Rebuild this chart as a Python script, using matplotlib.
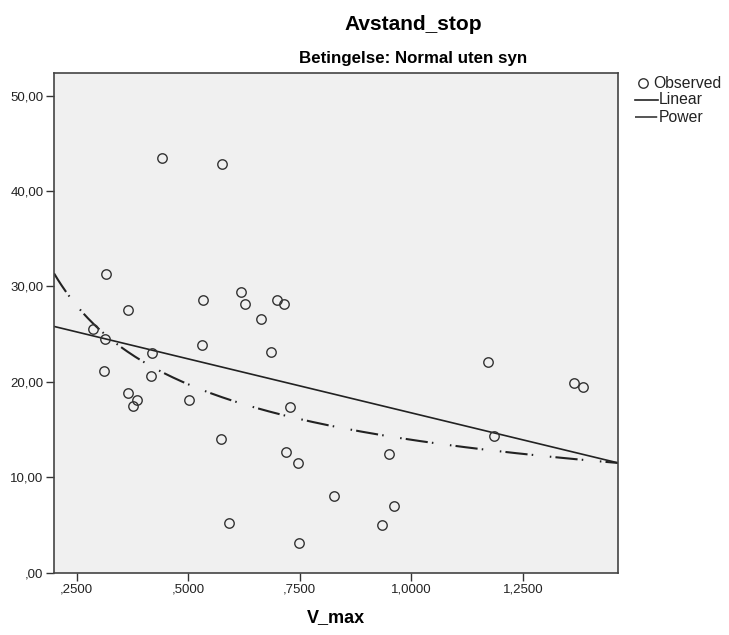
import numpy as np
import matplotlib
matplotlib.use("Agg")
import matplotlib.pyplot as plt
from matplotlib.lines import Line2D

plt.rcParams['font.family'] = ['Liberation Sans', 'DejaVu Sans']
plt.rcParams['lines.scale_dashes'] = False

# observed points
v_max = [0.441, 0.576, 0.316, 0.366, 0.533, 0.618, 0.627, 0.662, 0.698, 0.715,
         0.530, 0.686, 0.287, 0.313, 0.419, 0.311, 0.417, 0.366, 0.385, 0.376,
         0.502, 0.727, 0.574, 0.718, 0.745, 0.827, 0.591, 0.748, 1.171, 1.365,
         1.385, 1.186, 0.951, 0.961, 0.935]
avstand = [43.5, 42.8, 31.3, 27.5, 28.6, 29.4, 28.2, 26.6, 28.6, 28.2,
           23.9, 23.1, 25.5, 24.5, 23.0, 21.1, 20.6, 18.8, 18.1, 17.5,
           18.1, 17.4, 14.0, 12.7, 11.5, 8.0, 5.2, 3.1, 22.1, 19.9,
           19.5, 14.3, 12.4, 7.0, 5.0]

# fitted curves (coefficients estimated from the drawn lines)
lin_b0, lin_b1 = 28.06, -11.31
pow_a, pow_b = 13.93, -0.503

xticks = [0.25, 0.5, 0.75, 1.0, 1.25]
xticklabels = [",2500", ",5000", ",7500", "1,0000", "1,2500"]
yticks = [0, 10, 20, 30, 40, 50]
yticklabels = [",00", "10,00", "20,00", "30,00", "40,00", "50,00"]
legend_labels = ["Observed", "Linear", "Power"]

xmin, xmax = 0.199, 1.464
ymin, ymax = 0.0, 52.4

W, H = 729, 635
dark = '#222222'
power_dash = (0, (16, 3, 1.1, 12, 1.1, 3))

fig = plt.figure(figsize=(W/100, H/100), dpi=100)
ax = fig.add_axes([54/W, 1-572.7/H, (618.3-54)/W, (572.7-72.7)/H])
ax.set_facecolor('#f0f0f0')

xs = np.linspace(xmin, xmax, 300)
ax.plot(xs, lin_b0 + lin_b1*xs, color=dark, lw=1.2, zorder=2)
ax.plot(xs, pow_a*xs**pow_b, color=dark, lw=1.5, linestyle=power_dash, zorder=2)
ax.plot(v_max, avstand, 'o', mfc='none', mec='#333333', mew=1.0, ms=6.8,
        linestyle='none', zorder=3)

ax.set_xlim(xmin, xmax)
ax.set_ylim(ymin, ymax)
ax.set_xticks(xticks)
ax.set_xticklabels(xticklabels)
ax.set_yticks(yticks)
ax.set_yticklabels(yticklabels)
ax.tick_params(axis='both', direction='out', length=6, width=1.0,
               color='#333333', labelsize=9.5, labelcolor='#222222', pad=1.5)
for s in ax.spines.values():
    s.set_color('#444444')
    s.set_linewidth(1.2)

ax.set_xlabel("V_max", fontsize=13, fontweight='bold', labelpad=10)

fig.text(413/W, 1-29.5/H, "Avstand_stop", ha='center', va='baseline',
         fontsize=15, fontweight='bold')
fig.text(413/W, 1-62.5/H, "Betingelse: Normal uten syn", ha='center',
         va='baseline', fontsize=12.2, fontweight='bold')

# legend, drawn by hand to match spacing
def fx(px):
    return px/W

def fy(py):
    return 1-py/H

fig.add_artist(Line2D([fx(643)], [fy(83)], marker='o', mfc='none',
                      mec='#333333', mew=1.0, ms=6.8, transform=fig.transFigure))
fig.add_artist(Line2D([fx(635), fx(658)], [fy(100), fy(100)], color=dark,
                      lw=1.2, transform=fig.transFigure))
fig.add_artist(Line2D([fx(635), fx(658)], [fy(117), fy(117)], color='#555555',
                      lw=1.4, linestyle=power_dash, transform=fig.transFigure))
for lab, px, py in zip(legend_labels, [653, 659, 659], [83, 100, 117]):
    fig.text(fx(px), fy(py), lab, ha='left', va='center', fontsize=11.3,
             color='#222222')

fig.savefig("out.png", dpi=100)
